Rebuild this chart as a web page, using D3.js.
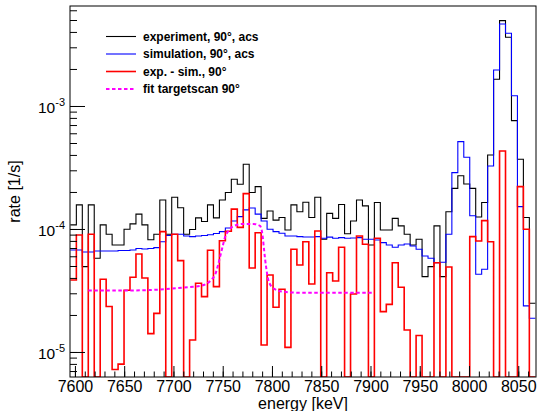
<!DOCTYPE html>
<html>
<head>
<meta charset="utf-8">
<script src="https://cdn.jsdelivr.net/npm/d3@7"></script>
<style>
  body { margin: 0; background: #fff; }
  svg text { font-family: "Liberation Sans", Arial, Helvetica, sans-serif; }
</style>
</head>
<body>
<svg id="targetscan"></svg>
<script>
// histogram binning (keV)
const binStart = 7595.4;
const binWidth = 6.05;

// rate [1/s] per bin, 78 bins
const experiment = [
  1.08e-4, 1.57e-4, 4.94e-5, 1.57e-4, 5.78e-5, 1.08e-4, 9.06e-5, 7.41e-5, 7.41e-5, 9.94e-5,
  1.10e-4, 1.32e-4, 1.08e-4, 8.18e-5, 9.06e-5, 1.72e-4, 9.06e-5, 1.81e-4, 1.49e-4, 9.06e-5,
  9.91e-5, 1.23e-4, 1.15e-4, 1.57e-4, 1.23e-4, 1.72e-4, 1.98e-4, 2.54e-4, 2.31e-4, 3.36e-4,
  1.98e-4, 2.21e-4, 1.22e-4, 1.40e-4, 1.18e-4, 1.24e-4, 9.81e-5, 1.57e-4, 1.38e-4, 1.65e-4,
  1.24e-4, 1.81e-4, 8.25e-5, 1.34e-4, 1.22e-4, 1.58e-4, 9.14e-5, 1.16e-4, 1.72e-4, 1.54e-4,
  7.41e-5, 1.64e-4, 9.81e-5, 9.81e-5, 1.22e-4, 1.06e-4, 9.06e-5, 7.41e-5, 8.25e-5, 4.10e-5,
  4.94e-5, 1.06e-4, 4.10e-5, 1.38e-4, 2.14e-4, 2.71e-4, 2.32e-4, 2.14e-4, 1.25e-4, 1.64e-4,
  4.00e-4, 1.65e-3, 4.94e-3, 3.62e-3, 7.60e-4, 3.69e-4, 1.24e-4, 2.49e-5
];

const simulation = [
  6.75e-5, 6.75e-5, 6.50e-5, 6.50e-5, 6.62e-5, 6.62e-5, 6.62e-5, 6.62e-5, 6.69e-5, 6.69e-5,
  6.75e-5, 6.94e-5, 6.88e-5, 6.94e-5, 7.05e-5, 7.88e-5, 8.86e-5, 9.06e-5, 9.06e-5, 8.77e-5,
  8.66e-5, 8.77e-5, 8.86e-5, 8.97e-5, 9.19e-5, 9.51e-5, 1.02e-4, 1.16e-4, 1.26e-4, 1.43e-4,
  1.48e-4, 1.32e-4, 1.16e-4, 9.94e-5, 9.51e-5, 9.23e-5, 8.77e-5, 8.77e-5, 8.66e-5, 8.61e-5,
  8.61e-5, 8.66e-5, 8.40e-5, 8.58e-5, 8.40e-5, 8.50e-5, 8.40e-5, 8.44e-5, 8.50e-5, 8.25e-5,
  8.25e-5, 8.14e-5, 7.74e-5, 7.41e-5, 7.10e-5, 7.41e-5, 7.55e-5, 7.27e-5, 6.84e-5, 6.03e-5,
  5.78e-5, 5.32e-5, 5.36e-5, 9.06e-5, 2.87e-4, 5.13e-4, 3.83e-4, 1.28e-4, 4.28e-5, 4.70e-5,
  3.25e-4, 1.96e-3, 4.64e-3, 3.90e-3, 1.21e-3, 1.52e-4, 2.37e-5, 1.88e-5
];

// exp. - sim.; null = bin <= 0 (drops out of the log axis)
const difference = [
  3.85e-5, 8.94e-5, null, 9.06e-5, null, 3.90e-5, 2.34e-5, 7.21e-6, 7.96e-6, 3.18e-5,
  4.05e-5, 6.26e-5, 4.00e-5, 1.41e-5, 2.06e-5, 9.51e-5, null, 9.06e-5, 5.53e-5, null,
  1.25e-5, 3.62e-5, 2.82e-5, 6.71e-5, 3.40e-5, 8.03e-5, 9.58e-5, 1.45e-4, 1.03e-4, 1.94e-4,
  4.82e-5, 9.33e-5, 1.14e-5, 4.23e-5, 2.31e-5, 3.24e-5, 1.09e-5, 6.84e-5, 5.10e-5, 7.88e-5,
  3.57e-5, 9.63e-5, null, 4.41e-5, 3.78e-5, 7.10e-5, null, 2.96e-5, 8.77e-5, 7.51e-5,
  null, 8.40e-5, 2.13e-5, 2.44e-5, 5.32e-5, 3.36e-5, 1.51e-5, null, 1.36e-5, null,
  null, 5.32e-5, null, 4.91e-5, null, null, null, 8.66e-5, 7.99e-5, 1.17e-4,
  7.88e-5, null, 4.31e-4, null, null, 2.21e-4, 9.94e-5, null
];

// fit targetscan 90°
const fitEnergy = [7613.6, 7652.9, 7686.4, 7716.8, 7727.0, 7734.1, 7739.2, 7742.2, 7745.3,
  7747.3, 7749.8, 7752.4, 7755.7, 7760.5, 7770.6, 7780.8, 7787.9, 7790.6, 7792.0, 7794.0,
  7796.3, 7801.4, 7811.5, 7828.5, 7901.6];
const fitRate = [3.16e-5, 3.16e-5, 3.22e-5, 3.38e-5, 3.44e-5, 3.61e-5, 3.92e-5, 4.23e-5, 5.10e-5,
  5.92e-5, 7.14e-5, 8.61e-5, 9.63e-5, 1.05e-4, 1.10e-4, 1.10e-4, 1.06e-4, 8.66e-5, 6.75e-5, 4.94e-5,
  3.85e-5, 3.30e-5, 3.09e-5, 3.03e-5, 3.03e-5];

const xTickValues = d3.range(7600, 8051, 50);
const xMinorValues = d3.range(7600, 8061, 10);
const yDecades = [-5, -4, -3];

const legendLabels = ["experiment, 90°, acs", "simulation, 90°, acs", "exp. - sim., 90°", "fit targetscan 90°"];

const width = 540, height = 411;
const margins = { left: 70, right: 4, top: 6, bottom: 34 };

const svg = d3.select("svg#targetscan").attr("width", width).attr("height", height);

const x = d3.scaleLinear().domain([7595, 8068]).range([margins.left, width - margins.right]);
const y = d3.scaleLog().domain([6.26e-6, 6.5e-3]).range([height - margins.bottom, margins.top]);
const yBottom = y.range()[0];

svg.append("defs").append("clipPath").attr("id", "frameClip")
  .append("rect")
  .attr("x", margins.left).attr("y", margins.top)
  .attr("width", width - margins.left - margins.right)
  .attr("height", height - margins.top - margins.bottom);

// step outline like ROOT "HIST"
function histPoints(values) {
  let pts = [];
  values.forEach((v, i) => {
    let e0 = binStart + i * binWidth;
    let yy = v != null && v > 0 ? y(v) : yBottom;
    pts.push([x(e0), yy], [x(e0 + binWidth), yy]);
  });
  return pts;
}

const plot = svg.append("g").attr("clip-path", "url(#frameClip)");
const line = d3.line();

const styles = [
  { color: "#000", width: 1.1, dash: null },
  { color: "#0000ff", width: 1.1, dash: null },
  { color: "#ff0000", width: 1.6, dash: null },
  { color: "#ff00ff", width: 2, dash: "3.5,2.5" }
];

[experiment, simulation, difference].forEach((series, k) => {
  plot.append("path")
    .attr("d", line(histPoints(series)))
    .attr("fill", "none")
    .attr("stroke", styles[k].color)
    .attr("stroke-width", styles[k].width);
});

const fitLine = d3.line()
  .x((d, i) => x(fitEnergy[i]))
  .y((d) => y(d))
  .curve(d3.curveMonotoneX);

plot.append("path")
  .attr("d", fitLine(fitRate))
  .attr("fill", "none")
  .attr("stroke", styles[3].color)
  .attr("stroke-width", styles[3].width)
  .attr("stroke-dasharray", styles[3].dash);

// axes, ticks pointing inward
const xMinor = d3.axisBottom(x).tickValues(xMinorValues).tickSizeInner(-5.5).tickSizeOuter(0).tickFormat("");
const xMajor = d3.axisBottom(x).tickValues(xTickValues).tickSizeInner(-11).tickSizeOuter(0).tickPadding(4).tickFormat(d3.format("d"));

svg.append("g").attr("transform", `translate(0,${yBottom})`).call(xMinor);
const xAxisG = svg.append("g").attr("transform", `translate(0,${yBottom})`).call(xMajor);
xAxisG.selectAll("text").attr("font-size", 16).attr("fill", "#000");

let yMinorValues = [];
[-6, -5, -4, -3].forEach((d) => {
  for (let k = 1; k <= 9; k++) {
    let v = k * Math.pow(10, d);
    if (v >= y.domain()[0] && v <= y.domain()[1]) yMinorValues.push(v);
  }
});
const yMinor = d3.axisLeft(y).tickValues(yMinorValues).tickSizeInner(-7).tickSizeOuter(0).tickFormat("");
const yMajor = d3.axisLeft(y).tickValues(yDecades.map((d) => Math.pow(10, d))).tickSizeInner(-15).tickSizeOuter(0).tickFormat("");

svg.append("g").attr("transform", `translate(${margins.left},0)`).call(yMinor);
svg.append("g").attr("transform", `translate(${margins.left},0)`).call(yMajor);
svg.selectAll(".domain").remove();
svg.selectAll(".tick line").attr("stroke", "#000").attr("stroke-width", 1);

const yLabels = svg.append("g")
  .selectAll("text")
  .data(yDecades)
  .join("text")
  .attr("x", margins.left - 5)
  .attr("y", (d) => y(Math.pow(10, d)) + 7.5)
  .attr("text-anchor", "end")
  .attr("font-size", 15.5);
yLabels.append("tspan").text("10");
yLabels.append("tspan").attr("font-size", 11).attr("dy", -7.5).text((d) => d);

// frame
svg.append("rect")
  .attr("x", margins.left).attr("y", margins.top)
  .attr("width", width - margins.left - margins.right)
  .attr("height", height - margins.top - margins.bottom)
  .attr("fill", "none").attr("stroke", "#000").attr("stroke-width", 1);

// axis titles
svg.append("text")
  .attr("x", (margins.left + width - margins.right) / 2)
  .attr("y", 408.5)
  .attr("text-anchor", "middle")
  .attr("font-size", 16)
  .text("energy [keV]");

svg.append("text")
  .attr("transform", `translate(20,${(margins.top + yBottom) / 2}) rotate(-90)`)
  .attr("text-anchor", "middle")
  .attr("font-size", 16)
  .text("rate [1/s]");

// legend
const legend = svg.append("g").selectAll("g")
  .data(legendLabels)
  .join("g")
  .attr("transform", (d, i) => `translate(106,${36.5 + i * 17.5})`);

legend.append("line")
  .attr("x1", 0).attr("x2", 30)
  .attr("stroke", (d, i) => styles[i].color)
  .attr("stroke-width", (d, i) => styles[i].width)
  .attr("stroke-dasharray", (d, i) => styles[i].dash);

legend.append("text")
  .attr("x", 37)
  .attr("y", 4.3)
  .attr("font-size", 12)
  .attr("font-weight", "bold")
  .text((d) => d);
</script>
</body>
</html>
